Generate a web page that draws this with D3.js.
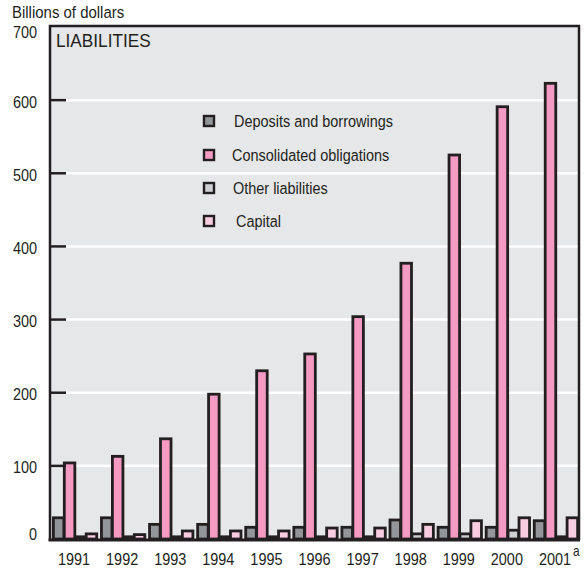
<!DOCTYPE html>
<html>
<head>
<meta charset="utf-8">
<script src="https://cdn.jsdelivr.net/npm/d3@7"></script>
<style>
  html, body { margin: 0; padding: 0; background: #ffffff; }
  svg text { font-family: "Liberation Sans", Arial, sans-serif; fill: #231f20; }
</style>
</head>
<body>
<svg id="chart" width="587" height="569"></svg>
<script>
const years = ["1991","1992","1993","1994","1995","1996","1997","1998","1999","2000","2001"];
const seriesNames = ["Deposits and borrowings","Consolidated obligations","Other liabilities","Capital"];
const deposits     = [29, 29, 20, 20, 16, 16, 16, 26, 16, 16, 25];
const consolidated = [104, 113, 137, 198, 230, 253, 304, 377, 525, 591, 623];
const other        = [3, 3, 3, 3, 3, 3, 3, 7, 7, 12, 3];
const capital      = [7, 6, 11, 11, 11, 15, 15, 20, 25, 29, 29];
const yTicks = [0, 100, 200, 300, 400, 500, 600, 700];
const colors = ["#939598", "#f49ac3", "#cfd0d2", "#f9cde0"];

const seriesValues = [deposits, consolidated, other, capital];
const svg = d3.select("#chart");
const pLeft = 50, pRight = 579, pTop = 27, pBottom = 539;
const dark = "#231f20";

// condensed text helper (horizontal squeeze of a regular sans)
function ctext(parent, x, y, str, size, sx, anchor) {
  return parent.append("text")
    .attr("transform", `translate(${x},${y}) scale(${sx},1)`)
    .attr("font-size", size)
    .attr("text-anchor", anchor || "start")
    .text(str);
}

const y = d3.scaleLinear().domain([0, 700]).range([pBottom, pTop]);
const x0 = d3.scaleBand().domain(years).range([pLeft, pRight]).paddingInner(0.09).paddingOuter(0.045);
const x1 = d3.scaleBand().domain(d3.range(4)).range([0, x0.bandwidth()]);

// background
svg.append("rect").attr("x", pLeft).attr("y", pTop).attr("width", pRight - pLeft).attr("height", pBottom - pTop).attr("fill", "#e6e7e8");

// gridlines
svg.append("g").selectAll("line").data(yTicks.filter(t => t > 0 && t < 700)).join("line")
  .attr("x1", pLeft).attr("x2", pRight).attr("y1", d => y(d)).attr("y2", d => y(d))
  .attr("stroke", "#ffffff").attr("stroke-width", 2.5);

// legend
const legend = svg.append("g");
const legY = [121, 155, 188, 221];
const legTx = [234, 232, 233, 236];
seriesNames.forEach((name, i) => {
  legend.append("rect").attr("x", 204).attr("y", legY[i] - 5).attr("width", 10).attr("height", 10)
    .attr("fill", colors[i]).attr("stroke", dark).attr("stroke-width", 2.4);
  ctext(legend, legTx[i], legY[i] + 6, name, 17, 0.85);
});

// bars
const groups = svg.append("g").selectAll("g").data(years).join("g")
  .attr("transform", d => `translate(${x0(d)},0)`);
groups.selectAll("rect").data((d, i) => seriesValues.map((s, k) => ({k, v: s[i]}))).join("rect")
  .attr("x", d => x1(d.k) + 1.2)
  .attr("width", x1.bandwidth() - 0.4)
  .attr("y", d => y(d.v))
  .attr("height", d => y(0) - y(d.v))
  .attr("fill", d => colors[d.k])
  .attr("stroke", dark).attr("stroke-width", 2.8);

// left ticks (inward)
svg.append("g").selectAll("line").data(yTicks.filter(t => t > 0 && t < 700)).join("line")
  .attr("x1", pLeft).attr("x2", pLeft + 16).attr("y1", d => y(d)).attr("y2", d => y(d))
  .attr("stroke", dark).attr("stroke-width", 2.5);

// frame
svg.append("path")
  .attr("d", `M${pLeft},${pBottom + 1}V${pTop - 1}H${pRight}V${pBottom + 1}`)
  .attr("fill", "none").attr("stroke", dark).attr("stroke-width", 2.5);
svg.append("line").attr("x1", pLeft - 1.5).attr("x2", pRight + 1).attr("y1", pBottom + 1).attr("y2", pBottom + 1)
  .attr("stroke", dark).attr("stroke-width", 3.2);

// y tick labels
const yl = svg.append("g");
function labelY(d) {
  if (d === 0) return y(d) + 1;
  if (d === 700) return 38;
  return y(d) + 7.5;
}
yTicks.forEach(t => ctext(yl, 37, labelY(t), String(t), 17, 0.85, "end"));

// x labels
const xl = svg.append("g");
years.forEach(yr => ctext(xl, x0(yr) + x0.bandwidth() / 2, 565, yr, 17, 0.85, "middle"));
ctext(xl, x0("2001") + x0.bandwidth() / 2 + 18, 556, "a", 14, 0.85);

// titles
ctext(svg, 12, 18, "Billions of dollars", 17, 0.88);
ctext(svg, 56, 47, "LIABILITIES", 18.5, 0.93);
</script>
</body>
</html>
